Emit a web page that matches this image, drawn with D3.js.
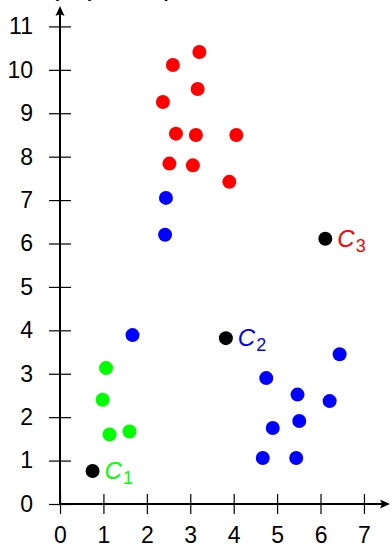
<!DOCTYPE html>
<html>
<head>
<meta charset="utf-8">
<script src="https://cdn.jsdelivr.net/npm/d3@7"></script>
<style>
  html, body { margin: 0; padding: 0; background: #fff; }
  svg { display: block; }
</style>
</head>
<body>
<script>
// ---- data ----
const redX   = [3.21, 2.60, 3.17, 2.37, 2.67, 3.13, 4.06, 2.52, 3.06, 3.90];
const redY   = [10.41, 10.11, 9.56, 9.26, 8.53, 8.50, 8.50, 7.84, 7.80, 7.42];
const blueX  = [2.44, 2.42, 1.67, 4.75, 5.47, 6.21, 4.90, 5.51, 4.67, 5.44, 6.44];
const blueY  = [7.05, 6.20, 3.89, 2.90, 2.52, 2.37, 1.75, 1.91, 1.06, 1.06, 3.45];
const greenX = [1.06, 0.98, 1.14, 1.60];
const greenY = [3.13, 2.40, 1.60, 1.67];
const centroidX = [0.75, 3.82, 6.11];
const centroidY = [0.76, 3.82, 6.11];
const centroidNames = ["C", "C", "C"];
const centroidSubs = ["1", "2", "3"];
const centroidColors = ["#00ff00", "#0000ff", "#ff0000"];
const xTicks = [0, 1, 2, 3, 4, 5, 6, 7];
const yTicks = [0, 1, 2, 3, 4, 5, 6, 7, 8, 9, 10, 11];
const titleText = "(Step 1: k = 3)";

const W = 392, H = 549;
const svg = d3.select("body").append("svg").attr("width", W).attr("height", H);

const x = d3.scaleLinear().domain([0, 7.6]).range([60, 390]);
const y = d3.scaleLinear().domain([0, 11.47]).range([504, 6]);

const font = "'Liberation Sans', Arial, sans-serif";

// title, cut off at the very top (only descenders visible, as in the reference)
svg.append("text")
  .attr("x", 53).attr("y", -3.5)
  .attr("font-family", font).attr("font-weight", "bold").attr("font-size", 18)
  .text(titleText);

// x axis
const xAxis = d3.axisBottom(x).tickValues(xTicks).tickFormat(d3.format("d")).tickSize(10).tickPadding(13);
const gx = svg.append("g").attr("transform", `translate(0,${y(0)})`).call(xAxis);
gx.select(".domain").remove();
gx.selectAll(".tick line").attr("y1", -10).attr("y2", 10).attr("stroke", "#000").attr("stroke-width", 1.2);
gx.selectAll(".tick text").attr("font-family", font).attr("font-size", 23).attr("fill", "#000");

// y axis
const yAxis = d3.axisLeft(y).tickValues(yTicks).tickFormat(d3.format("d")).tickSize(10).tickPadding(17);
const gy = svg.append("g").attr("transform", `translate(${x(0)},0)`).call(yAxis);
gy.select(".domain").remove();
gy.selectAll(".tick line").attr("x1", -11).attr("x2", 11).attr("stroke", "#000").attr("stroke-width", 1.2);
gy.selectAll(".tick text").attr("font-family", font).attr("font-size", 23).attr("fill", "#000");

// axis lines with arrows
const x0 = x(0), y0 = y(0), xEnd = x(7.6), yEnd = y(11.47);
svg.append("line").attr("x1", x0 - 1).attr("y1", y0).attr("x2", xEnd - 3).attr("y2", y0)
  .attr("stroke", "#000").attr("stroke-width", 2);
svg.append("line").attr("x1", x0).attr("y1", y0 + 1).attr("x2", x0).attr("y2", yEnd + 3)
  .attr("stroke", "#000").attr("stroke-width", 2);
svg.append("path")
  .attr("d", `M${xEnd},${y0} L${xEnd - 10},${y0 - 4.5} Q${xEnd - 7},${y0} ${xEnd - 10},${y0 + 4.5} Z`)
  .attr("fill", "#000");
svg.append("path")
  .attr("d", `M${x0},${yEnd} L${x0 - 4.5},${yEnd + 10} Q${x0},${yEnd + 7} ${x0 + 4.5},${yEnd + 10} Z`)
  .attr("fill", "#000");

// points
function drawPoints(xs, ys, color) {
  svg.append("g").selectAll("circle")
    .data(xs.map((v, i) => [v, ys[i]]))
    .join("circle")
    .attr("cx", d => x(d[0])).attr("cy", d => y(d[1]))
    .attr("r", 7).attr("fill", color);
}
drawPoints(redX, redY, "#ff0000");
drawPoints(blueX, blueY, "#0000ff");
drawPoints(greenX, greenY, "#00ff00");
drawPoints(centroidX, centroidY, "#000000");

// centroid labels
centroidX.forEach((cx, i) => {
  const t = svg.append("text")
    .attr("x", x(cx) + 12).attr("y", y(centroidY[i]) + 8)
    .attr("font-family", font).attr("font-size", 24).attr("fill", centroidColors[i]);
  t.append("tspan").attr("font-style", "italic").text(centroidNames[i]);
  t.append("tspan").attr("font-size", 18).attr("dy", 5).attr("dx", 1).text(centroidSubs[i]);
});
</script>
</body>
</html>
